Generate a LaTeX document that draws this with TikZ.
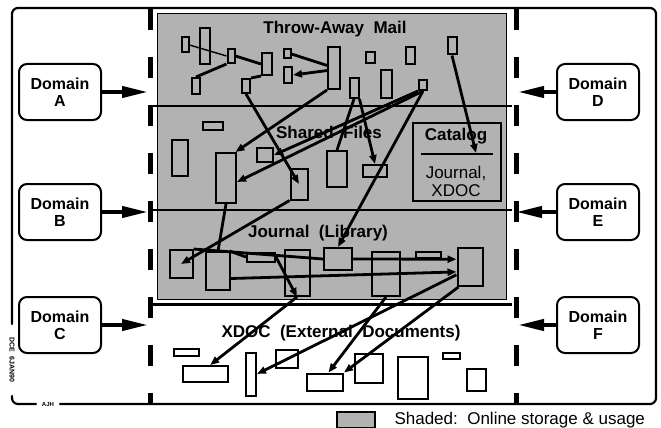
\documentclass[tikz,border=0pt]{standalone}
\usepackage{fontspec}
\setmainfont{Liberation Sans}
\usetikzlibrary{arrows.meta}

\definecolor{shade}{gray}{0.70}

\begin{document}
\begin{tikzpicture}[
    x=1pt, y=-1pt, % pixel grid of the scan
    >={Triangle[length=9pt,width=7pt]}, % default arrow tip
    framestroke/.style={line width=2.2pt, line cap=round, rounded corners=6pt},
    partition/.style={line width=5pt, dash pattern=on 21pt off 27pt},
    domainbox/.style={draw, line width=2pt, rounded corners=8pt, minimum width=82pt,
      minimum height=56pt, align=center, font=\fontsize{16}{17}\selectfont\bfseries},
    feed/.style={line width=4pt, -{Triangle[length=26pt,width=11pt]}},
    doc/.style={draw, line width=2pt, fill=shade, inner sep=0pt},
    xdoc/.style={doc, fill=white},
    link/.style={line width=2.8pt},
    sectitle/.style={font=\fontsize{17}{18}\selectfont\bfseries},
  ]

  \useasboundingbox (0,0) rectangle (661,428);

  % Online Bereich
  \draw[line width=0.8pt, fill=shade] (157,13) rectangle (506,299);
  \foreach \y in {106, 210}
  \draw[line width=2pt] (150,\y) -- (512,\y);
  \draw[line width=3pt] (152,304) -- (512,304);

  % Grenzen und Rahmen
  \draw[partition] (150,9) -- (150,404);
  \draw[partition] (516,9) -- (516,404);
  \draw[framestroke] (60,404) -- (656,404) -- (656,8) -- (12,8) -- (12,324);
  \draw[framestroke] (12,396) -- (12,404) -- (36,404);
  \node[rotate=-90, font=\fontsize{7}{7}\selectfont\bfseries] (stamp) at (12,360) {DCE~~6JAN90};
  \node[font=\fontsize{6}{6}\selectfont\bfseries] (initials) at (48,404) {AJH};

  % Bereiche
  \node[sectitle] (mail) at (335,29) {Throw-Away~~Mail};
  \node[sectitle] (shared) at (329,132) {Shared~~Files};
  \node[sectitle] (journal) at (318,233) {Journal~~(Library)};
  \node[sectitle] (external) at (341,333) {XDOC~~(External~~Documents)};

  % Katalog
  \node[draw, line width=2pt, minimum width=88pt, minimum height=78pt] (catalog) at (457,162) {};
  \node[sectitle] (cattitle) at (456,136) {Catalog};
  \draw[line width=1.2pt] (421,154) -- (493,154);
  \node[font=\fontsize{17}{18}\selectfont, align=center] (catdocs) at (456,181) {Journal,\\XDOC};
  \coordinate (catin) at (476,153);

  % Dokumente
  \foreach \n/\x/\y/\w/\h in {t1/185/45/7/15, t2/205/46/10/36, t3/196/86/8/16,
      t4/231/56/7/14, t5/246/86/8/14, t6/267/64/10/22, t7/287/54/7/9,
      t8/288/75/8/16, t9/334/68/12/42, t10/370/58/9/11, t11/410/56/9/17,
      t12/354/88/9/20, t13/386/84/11/28, t14/423/85/8/10, t15/452/46/9/17,
      s1/213/126/20/8, s2/180/158/16/36, s3/226/178/20/50, s4/299/184/17/31,
      s5/265/155/16/14, s6/337/169/20/36, s7/375/171/24/12,
      j1/181/264/23/28, j2/218/271/24/38, j3/261/257/28/9, j4/297/273/25/46,
      j5/338/259/28/22, j6/386/274/28/44, j7/428/255/25/6, j8/470/267/25/38}
  \node[doc, minimum width=\w pt, minimum height=\h pt] (\n) at (\x,\y) {};

  \foreach \n/\x/\y/\w/\h in {x1/186/352/25/7, x2/205/374/45/16, x3/251/374/10/43,
      x4/287/359/22/18, x5/325/382/36/17, x6/369/368/28/29, x7/413/378/30/42,
      x8/451/356/17/6, x9/476/380/19/22}
  \node[xdoc, minimum width=\w pt, minimum height=\h pt] (\n) at (\x,\y) {};

  % Verbindungen
  \draw[line width=1.4pt] (t1.east) -- (t4.west);
  \draw[link] (t3.north) -- (t4.south west);
  \draw[link] (t4.east) -- (t6.west);
  \draw[link] (t5.north east) -- (t6.south west);
  \draw[link] (t7.east) -- (t9.160);
  \draw[link, ->] (t9.200) -- (t8.east);
  \draw[link, ->] (t5.south) -- (s4.center);
  \draw[link, ->] (t9.south west) -- (s3.70);
  \draw[link] (t12.south) -- (s6.north);
  \draw[link, ->] (t12.south east) -- (s7.north);
  \draw[link, ->] (t14.south west) -- (s5.east);
  \draw[link, ->] (t14.south) -- (s3.-20);
  \draw[link, ->] (t14.south) -- (j5.north);
  \draw[link, ->] (t15.south) -- (catin);

  \draw[link, ->] (s4.south west) -- (j1.center);
  \draw[link] (s3.south) -- (j2.north);

  \draw[link] (j1.north east) -- (j5.west);
  \draw[link, ->] (j5.east) -- (j8.150);
  \draw[link, ->] (j2.-30) -- (j8.200);
  \draw[link] (j2.60) -- (j3.west);
  \draw[link, ->] (j3.east) -- (j4.south);

  \draw[link, ->] (j4.south) -- (x2.60);
  \draw[link, ->] (j8.210) -- (x3.east);
  \draw[link, ->] (j6.south) -- (x5.70);
  \draw[link, ->] (j8.240) -- (x5.north east);

  % Domaenen
  \node[domainbox] (da) at (60,92) {Domain\\A};
  \node[domainbox] (db) at (60,212) {Domain\\B};
  \node[domainbox] (dc) at (60,325) {Domain\\C};
  \node[domainbox] (dd) at (598,92) {Domain\\D};
  \node[domainbox] (de) at (598,212) {Domain\\E};
  \node[domainbox] (df) at (598,325) {Domain\\F};

  \coordinate (pa) at (148,92);
  \coordinate (pb) at (148,212);
  \coordinate (pc) at (148,325);
  \coordinate (pd) at (518,92);
  \coordinate (pe) at (516,212);
  \coordinate (pf) at (518,325);
  \foreach \d/\p in {da/pa, db/pb, dc/pc}
  \draw[feed] (\d.east) -- (\p);
  \foreach \d/\p in {dd/pd, de/pe, df/pf}
  \draw[feed] (\d.west) -- (\p);

  % Legende
  \node[draw, line width=1.2pt, fill=shade, minimum width=38pt, minimum height=16pt] (key) at (356,420) {};
  \node[anchor=base west, font=\fontsize{17}{18}\selectfont] (keytext) at (391,424) {Shaded:~~Online storage \& usage};
\end{tikzpicture}
\end{document}
